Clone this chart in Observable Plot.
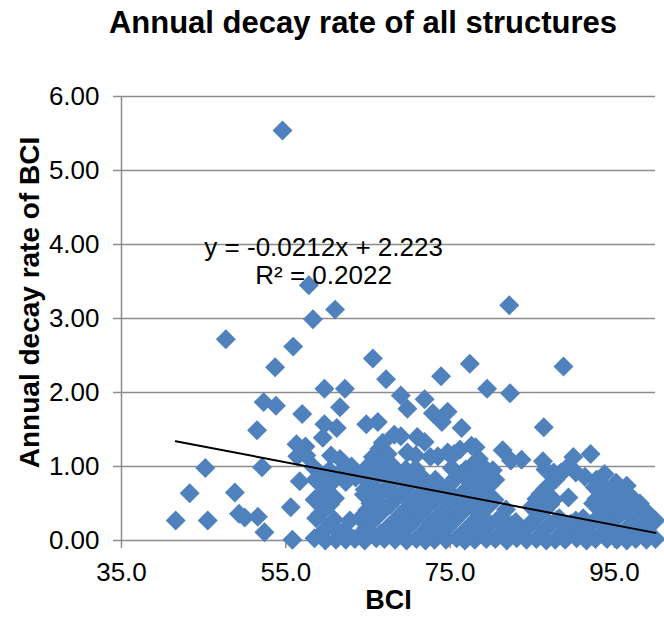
<!DOCTYPE html>
<html><head><meta charset="utf-8">
<script src="https://cdn.jsdelivr.net/npm/d3@7"></script>
<script src="https://cdn.jsdelivr.net/npm/@observablehq/plot@0.6"></script>
<style>
body{margin:0;background:#fff;}
#wrap{position:relative;width:664px;height:620px;font-family:"Liberation Sans",Arial,sans-serif;overflow:hidden;}
#title{position:absolute;top:4px;left:363px;transform:translateX(-50%);font-size:31px;font-weight:bold;white-space:nowrap;line-height:1.2;}
#chart{position:absolute;top:60px;left:0;}
</style></head><body>
<div id="wrap"><div id="title"></div><div id="chart"></div></div>
<script>
const titleText = "Annual decay rate of all structures";
const xLabel = "BCI";
const yLabel = "Annual decay rate of BCI";
const xTicks = [35, 55, 75, 95];
const yTicks = [0, 1, 2, 3, 4, 5, 6];
const trendSlope = -0.0212, trendIntercept = 2.223;
const trendLabel = ["y = -0.0212x + 2.223", "R\u00b2 = 0.2022"];
const trendLabelAt = [{bci: 59.6, rate: 3.78}];

// [BCI, annual decay rate]
const scatterUpper = [
  [54.6,5.54],[57.8,3.45],[58.3,2.99],[61.0,3.12],[82.2,3.18],
  [47.7,2.72],[55.9,2.62],[53.7,2.34],[65.6,2.46],[67.2,2.18],[73.9,2.22],[77.4,2.39],[88.8,2.35],
  [59.7,2.05],[62.2,2.05],[79.5,2.05],[82.3,1.99],[69.0,1.96],[71.9,1.91],
  [52.3,1.87],[53.8,1.82],[57.0,1.71],[61.6,1.80],[69.8,1.78],[72.9,1.72],[74.7,1.74],
  [51.5,1.49],[59.7,1.57],[61.2,1.52],[64.8,1.57],[66.2,1.60],[74.0,1.60],[76.4,1.52],[86.4,1.53],
  [59.5,1.39],[68.2,1.43],[69.0,1.41],[71.0,1.40],[71.9,1.33],[56.3,1.30],[57.4,1.27],[66.8,1.32],[66.4,1.24],
  [56.4,1.14],[57.5,1.15],[60.5,1.15],[61.6,1.10],[65.6,1.13],[66.4,1.05],[67.4,1.17],
  [69.8,1.19],[70.8,1.15],[72.6,1.13],[73.5,1.14],[74.7,1.19],[75.5,1.17],[76.2,1.23],[77.6,1.28],[78.1,1.26],[78.5,1.10],
  [81.4,1.22],[82.4,1.08],[83.7,1.09],[86.3,1.07],[90.0,1.13],[92.1,1.17]
];
const scatterLeft = [
  [45.2,0.98],[52.1,0.99],[58.4,0.99],[43.3,0.64],[48.8,0.65],[41.6,0.27],[45.5,0.27],
  [49.3,0.36],[50.0,0.31],[51.6,0.32],[52.4,0.11],[55.6,0.45],[55.8,0.01],[56.7,0.80]
];
const clusterA = [
  [58.5,0.03],[61.1,0.01],[63.4,0.02],[66.0,0.03],[68.3,0.01],
  [59.8,0.00],[62.3,0.01],[64.6,0.00],[67.0,0.02],[69.7,0.00],
  [59.9,0.16],[62.1,0.14],[64.8,0.17],[67.2,0.13],[69.5,0.15],
  [58.7,0.30],[60.9,0.28],[64.2,0.28],[65.8,0.31],[68.5,0.28],
  [59.7,0.43],[64.9,0.41],[67.0,0.44],[69.7,0.42],
  [58.5,0.55],[61.0,0.57],[66.0,0.55],[68.4,0.57],
  [59.9,0.70],[62.3,0.79],[64.6,0.69],[67.2,0.70],[69.5,0.68],
  [58.6,0.82],[61.1,0.84],[63.5,0.85],[65.8,0.83],[68.3,0.84],
  [60.3,0.95],[62.4,0.96],[64.7,0.97],[67.1,0.95],[69.6,0.96]
];
const fillA = [
  [59.2,0.08],[61.6,0.09],[64.1,0.08],[66.5,0.09],[69.0,0.08],
  [60.4,0.22],[62.8,0.27],[65.3,0.23],[67.7,0.21],
  [59.2,0.36],[64.5,0.35],[66.5,0.36],[69.0,0.35],
  [60.4,0.49],[65.3,0.50],[67.7,0.48],
  [59.2,0.62],[64.5,0.62],[66.5,0.63],[69.0,0.62],
  [60.4,0.76],[65.3,0.76],[67.7,0.75],
  [59.2,0.90],[61.6,0.91],[64.1,0.89],[66.5,0.90],[69.0,0.89],
  [63.0,1.00],[65.2,1.02],[68.0,1.01]
];
const clusterB = [
  [70.9,0.02],[73.1,0.01],[75.8,0.03],[78.0,0.01],[80.5,0.02],[83.1,0.03],
  [72.0,0.00],[74.5,0.01],[76.8,0.00],[79.4,0.02],[81.9,0.00],[84.3,0.01],
  [72.1,0.16],[74.3,0.14],[77.0,0.15],[79.2,0.17],[81.7,0.14],[84.1,0.16],
  [70.7,0.29],[73.3,0.30],[75.6,0.28],[78.2,0.29],[80.7,0.27],[83.0,0.25],
  [72.0,0.43],[74.5,0.41],[76.8,0.42],[79.3,0.44],[81.8,0.42],
  [70.9,0.56],[73.2,0.55],[75.7,0.57],[78.1,0.56],[80.4,0.55],
  [72.0,0.70],[74.4,0.69],[76.9,0.68],[79.3,0.70],
  [70.8,0.83],[73.2,0.82],[75.6,0.84],[78.1,0.83],[80.5,0.82],
  [70.8,0.97],[76.9,0.96],[79.3,0.97]
];
const fillB = [
  [71.4,0.08],[73.8,0.09],[76.3,0.08],[78.7,0.09],[81.2,0.08],[83.6,0.09],
  [70.2,0.22],[72.6,0.23],[75.0,0.22],[77.5,0.21],[79.9,0.22],[82.4,0.21],[84.8,0.22],
  [71.4,0.36],[73.8,0.35],[76.3,0.36],[78.7,0.35],[81.2,0.30],
  [70.2,0.49],[72.6,0.50],[75.0,0.49],[77.5,0.48],[79.9,0.49],[84.9,0.45],
  [71.4,0.62],[73.8,0.63],[76.3,0.62],[78.7,0.63],
  [70.2,0.76],[72.6,0.75],[75.0,0.76],[77.5,0.77],[79.9,0.76],
  [71.4,0.88],[76.3,0.90],[78.7,0.89],[80.2,0.95],
  [75.2,0.98],[77.8,1.03]
];
const clusterC = [
  [85.5,0.02],[87.8,0.01],[90.4,0.03],[92.7,0.02],[95.3,0.01],[97.6,0.02],[100.0,0.02],
  [86.7,0.00],[89.0,0.01],[91.6,0.00],[94.1,0.02],[96.5,0.00],[98.9,0.01],
  [86.5,0.15],[89.2,0.14],[91.4,0.16],[94.0,0.15],[96.3,0.14],[98.8,0.16],
  [85.3,0.29],[88.0,0.28],[90.3,0.27],[92.9,0.30],[95.1,0.29],[97.7,0.28],[100.0,0.27],
  [86.6,0.42],[94.0,0.43],[96.4,0.41],[98.8,0.40],
  [85.5,0.56],[87.6,0.55],[92.8,0.56],[95.2,0.55],[97.5,0.54],
  [86.6,0.70],[94.0,0.69],[96.4,0.66],
  [87.9,0.83],[90.3,0.92],[92.8,0.82],[95.2,0.78],
  [86.6,0.96],[89.1,0.97],[93.8,0.90],
  [88.5,0.92],[91.4,0.86],[93.0,0.81],[94.8,0.72],[96.5,0.74],[98.1,0.50],[99.1,0.36]
];
const fillC = [
  [86.0,0.08],[88.5,0.09],[90.9,0.08],[93.4,0.09],[95.8,0.08],[98.2,0.09],
  [87.2,0.22],[89.7,0.23],[92.1,0.22],[94.6,0.21],[97.0,0.22],[99.4,0.22],
  [86.0,0.36],[88.3,0.30],[91.2,0.30],[93.4,0.35],[95.8,0.36],[98.2,0.34],
  [87.2,0.49],[89.4,0.58],[92.4,0.50],[94.6,0.49],[97.0,0.48],
  [86.0,0.63],[93.4,0.62],[95.8,0.58],
  [87.2,0.76],[92.6,0.72],[94.6,0.70],
  [87.6,0.92]
];

document.getElementById("title").textContent = titleText;

const points = [...scatterUpper, ...scatterLeft, ...clusterA, ...fillA, ...clusterB, ...fillB, ...clusterC, ...fillC]
  .map(([bci, rate]) => ({bci, rate}));
const [xMin, xMax] = d3.extent(points, d => d.bci);
const trend = [xMin, xMax].map(x => ({bci: x, rate: trendSlope * x + trendIntercept}));

const gray = "#8c8c8c";
const font = "'Liberation Sans', Arial, sans-serif";
const plot = Plot.plot({
  width: 664, height: 560,
  marginLeft: 121, marginRight: 9, marginTop: 36, marginBottom: 80,
  style: {fontFamily: font, fontSize: "26px", color: "black", background: "white", overflow: "visible"},
  x: {domain: [35, 100]},
  y: {domain: [0, 6]},
  marks: [
    Plot.gridY(yTicks, {stroke: gray, strokeOpacity: 1, strokeWidth: 1.5}),
    Plot.ruleX([35], {stroke: gray, strokeWidth: 1.5}),
    Plot.axisY(yTicks, {tickSize: 8, tickPadding: 14, tickFormat: d3.format(".2f"), stroke: gray, strokeWidth: 1.5, fill: "black", fontSize: 26, label: null}),
    Plot.axisX(xTicks, {tickSize: 8, tickPadding: 14, tickFormat: d3.format(".1f"), stroke: gray, strokeWidth: 1.5, fill: "black", fontSize: 26, label: null}),
    Plot.dot(points, {x: "bci", y: "rate", symbol: "diamond2", r: 9, fill: "#4F81BD", stroke: "none"}),
    Plot.line(trend, {x: "bci", y: "rate", stroke: "black", strokeWidth: 2}),
    Plot.text(trendLabelAt, {x: "bci", y: "rate", text: () => trendLabel.join("\n"), fontSize: 26, lineHeight: 1.08, fill: "black"}),
    Plot.text([yLabel], {text: d => d, frameAnchor: "left", textAnchor: "middle", lineAnchor: "middle", rotate: -90, dx: -91, dy: -16, fontWeight: "bold", fontSize: 28, fill: "black"}),
    Plot.text([xLabel], {text: d => d, frameAnchor: "bottom", textAnchor: "middle", dy: 68, fontWeight: "bold", fontSize: 27, fill: "black"})
  ]
});
document.getElementById("chart").appendChild(plot);
</script>
</body></html>
